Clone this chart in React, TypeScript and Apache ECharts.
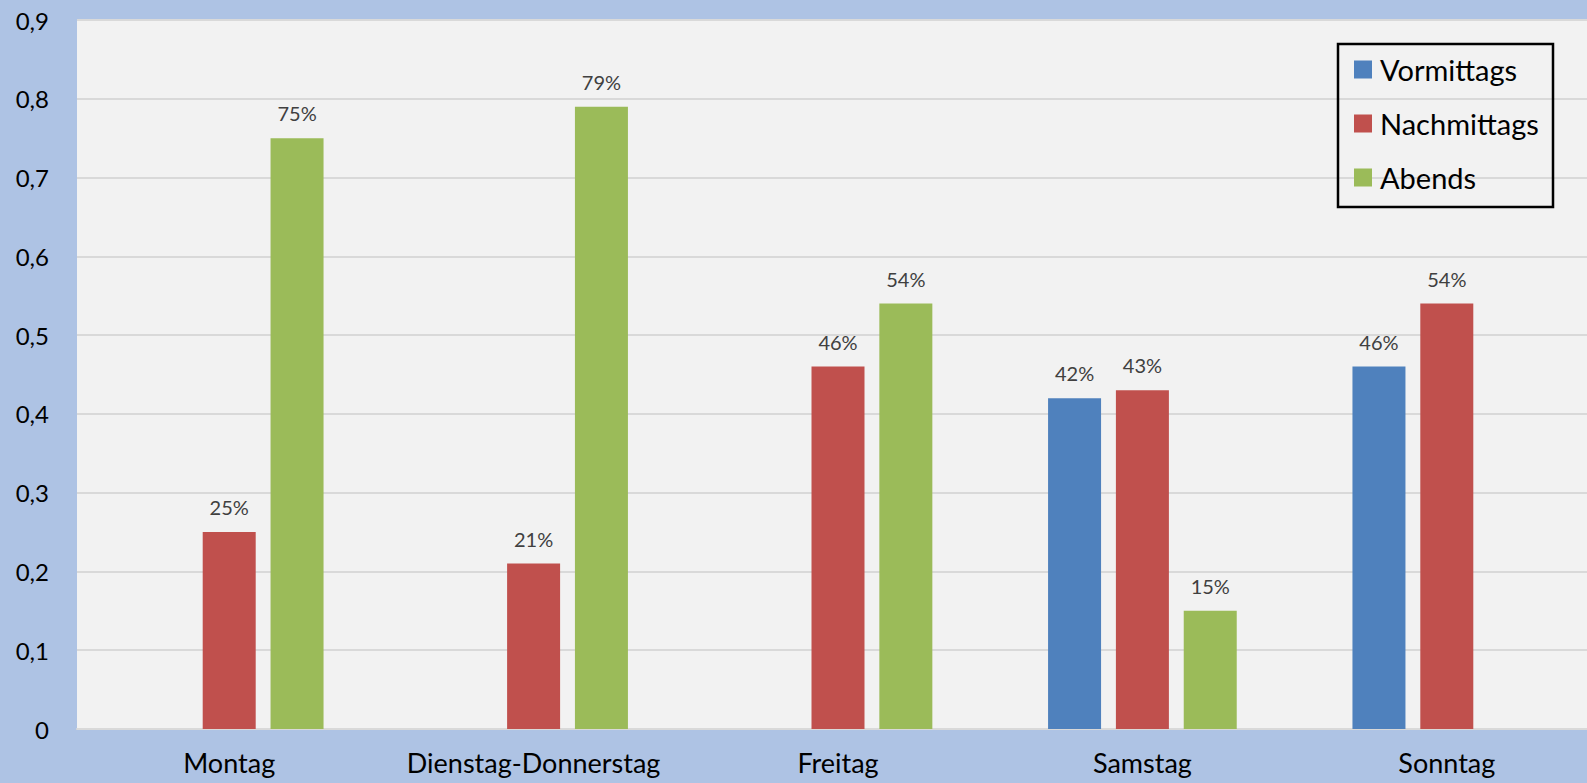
import React, { useEffect, useRef } from "react";
import * as echarts from "echarts";

const categories = ["Montag", "Dienstag-Donnerstag", "Freitag", "Samstag", "Sonntag"];
const vormittags = [0, 0, 0, 0.42, 0.46];
const nachmittags = [0.25, 0.21, 0.46, 0.43, 0.54];
const abends = [0.75, 0.79, 0.54, 0.15, 0];
const seriesNames = ["Vormittags", "Nachmittags", "Abends"];
const colors = ["#4F81BD", "#C0504D", "#9BBB59"];

const FONT = "Lato, 'Noto Sans', sans-serif";

export default function App() {
  const ref = useRef<HTMLDivElement>(null);
  useEffect(() => {
    if (!ref.current) return;
    const chart = echarts.init(ref.current, null, { renderer: "svg" });
    const label = {
      show: true,
      position: "top",
      distance: 15,
      color: "#404040",
      fontSize: 20,
      fontFamily: FONT,
      formatter: (p: any) => (p.value > 0 ? Math.round(p.value * 100) + "%" : ""),
    };
    const datasets = [vormittags, nachmittags, abends];
    chart.setOption({
      animation: false,
      backgroundColor: "#AEC3E4",
      textStyle: { fontFamily: FONT },
      grid: {
        left: 77,
        top: 20,
        bottom: 54,
        width: 1522,
        outerBoundsMode: "none",
        containLabel: false,
        show: true,
        backgroundColor: "#F2F2F2",
        borderWidth: 0,
      },
      legend: {
        orient: "vertical",
        left: 1354,
        top: 55,
        itemWidth: 18,
        itemHeight: 18,
        itemGap: 25,
        icon: "rect",
        padding: 0,
        textStyle: { fontSize: 29, color: "#000", fontFamily: FONT, padding: [0, 0, 0, 3] },
        data: seriesNames,
      },
      graphic: [
        {
          type: "rect",
          shape: { x: 1338, y: 44, width: 215, height: 163 },
          style: { fill: "none", stroke: "#000", lineWidth: 2.5 },
          z: 10,
        },
      ],
      xAxis: {
        type: "category",
        data: categories,
        axisTick: { show: false },
        axisLine: { lineStyle: { color: "#D9D9D9", width: 2 } },
        axisLabel: { color: "#000", fontSize: 27, fontFamily: FONT, margin: 20, interval: 0 },
      },
      yAxis: {
        type: "value",
        min: 0,
        max: 0.9,
        interval: 0.1,
        axisLine: { show: false },
        axisTick: { show: false },
        splitLine: { lineStyle: { color: "#D9D9D9", width: 2 } },
        axisLabel: {
          color: "#000",
          fontSize: 24,
          fontFamily: FONT,
          margin: 28,
          formatter: (v: number) => (Math.round(v * 10) / 10).toString().replace(".", ","),
        },
      },
      series: datasets.map((d, i) => ({
        name: seriesNames[i],
        type: "bar",
        data: d,
        barWidth: 53,
        barGap: "28%",
        itemStyle: { color: colors[i] },
        label,
      })),
    });
    return () => chart.dispose();
  }, []);
  return (
    <div
      ref={ref}
      style={{ position: "absolute", left: 0, top: 0, width: 1587, height: 783 }}
    />
  );
}
